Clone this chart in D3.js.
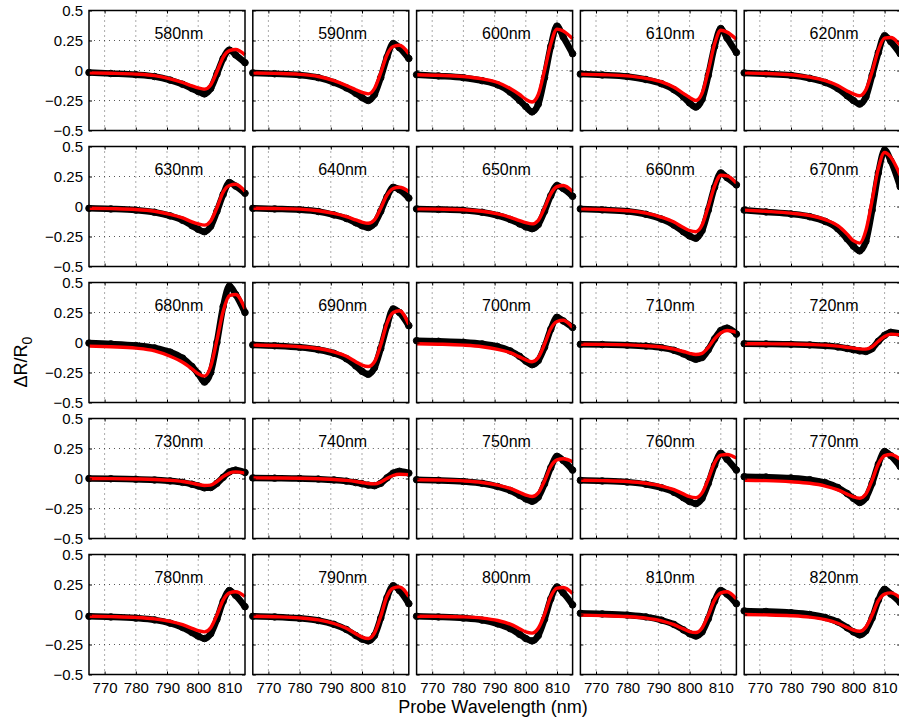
<!DOCTYPE html>
<html>
<head>
    <meta charset="utf-8" />
    <title>Pump wavelength series</title>
    <script src="https://cdn.jsdelivr.net/npm/d3@7"></script>
    <style type="text/css">
        body { margin:0; background:#fff; }
        text { font-family:"Liberation Sans", Arial, Helvetica, sans-serif; fill:#000; }
        .grid line { stroke:#444; stroke-width:0.9; stroke-dasharray:1 4; }
        .tick line { stroke:#000; }
        .domain { display:none; }
    </style>
</head>
<body>
    <div id="CHART"></div>
    <script>
        /* pump wavelength of each panel (row by row) */
        var pumpNm = [580, 590, 600, 610, 620,
                      630, 640, 650, 660, 670,
                      680, 690, 700, 710, 720,
                      730, 740, 750, 760, 770,
                      780, 790, 800, 810, 820];

        /* probe wavelengths where the curves were read */
        var probeNm = [765, 772, 780, 786, 791, 795, 798, 800, 802, 804, 806, 808, 810, 812, 815];

        var xTicks = [770, 780, 790, 800, 810];
        var yTicks = [-0.5, -0.25, 0, 0.25, 0.5];
        var yTickLabels = ["\u22120.5", "\u22120.25", "0", "0.25", "0.5"];
        var gridY = [-0.25, 0, 0.25];

        /* measured dR/R0 (black circles) */
        var measured = [
            [-0.017, -0.025, -0.035, -0.05, -0.08, -0.115, -0.15, -0.175, -0.195, -0.15, -0.03, 0.1, 0.17, 0.13, 0.065],
            [-0.02, -0.027, -0.038, -0.06, -0.1, -0.145, -0.19, -0.225, -0.25, -0.2, -0.06, 0.11, 0.225, 0.19, 0.1],
            [-0.035, -0.045, -0.06, -0.085, -0.12, -0.18, -0.25, -0.3, -0.345, -0.28, -0.06, 0.2, 0.37, 0.28, 0.14],
            [-0.03, -0.037, -0.05, -0.075, -0.11, -0.16, -0.22, -0.27, -0.305, -0.24, -0.04, 0.2, 0.35, 0.27, 0.15],
            [-0.02, -0.028, -0.04, -0.065, -0.1, -0.15, -0.21, -0.25, -0.28, -0.22, -0.04, 0.15, 0.29, 0.24, 0.14],

            [-0.015, -0.02, -0.03, -0.048, -0.078, -0.115, -0.16, -0.19, -0.21, -0.165, -0.04, 0.1, 0.2, 0.17, 0.11],
            [-0.015, -0.02, -0.027, -0.042, -0.07, -0.1, -0.135, -0.16, -0.175, -0.14, -0.04, 0.08, 0.16, 0.14, 0.07],
            [-0.02, -0.024, -0.032, -0.048, -0.075, -0.108, -0.145, -0.17, -0.185, -0.15, -0.04, 0.09, 0.175, 0.15, 0.085],
            [-0.02, -0.028, -0.04, -0.065, -0.105, -0.155, -0.21, -0.245, -0.265, -0.2, -0.03, 0.16, 0.28, 0.24, 0.18],
            [-0.03, -0.045, -0.062, -0.085, -0.125, -0.185, -0.27, -0.33, -0.37, -0.29, -0.03, 0.28, 0.47, 0.38, 0.165],

            [-0.005, -0.012, -0.025, -0.045, -0.08, -0.13, -0.2, -0.26, -0.33, -0.25, 0.0, 0.3, 0.47, 0.4, 0.25],
            [-0.02, -0.027, -0.04, -0.06, -0.09, -0.135, -0.195, -0.24, -0.265, -0.21, -0.05, 0.14, 0.28, 0.25, 0.14],
            [0.015, 0.01, 0.002, -0.012, -0.035, -0.07, -0.115, -0.155, -0.185, -0.15, -0.04, 0.11, 0.21, 0.18, 0.125],
            [-0.015, -0.017, -0.022, -0.03, -0.043, -0.065, -0.095, -0.12, -0.14, -0.125, -0.06, 0.03, 0.1, 0.12, 0.07],
            [-0.01, -0.012, -0.015, -0.02, -0.027, -0.037, -0.05, -0.06, -0.07, -0.075, -0.05, 0.01, 0.06, 0.085, 0.075],

            [0.0, -0.002, -0.006, -0.012, -0.02, -0.032, -0.048, -0.062, -0.078, -0.075, -0.04, 0.01, 0.055, 0.07, 0.05],
            [0.005, 0.003, 0.0, -0.005, -0.012, -0.022, -0.034, -0.044, -0.055, -0.06, -0.04, 0.005, 0.045, 0.06, 0.045],
            [-0.01, -0.015, -0.025, -0.04, -0.067, -0.1, -0.14, -0.17, -0.19, -0.155, -0.045, 0.09, 0.185, 0.15, 0.07],
            [-0.015, -0.02, -0.03, -0.048, -0.077, -0.115, -0.16, -0.192, -0.21, -0.165, -0.04, 0.11, 0.21, 0.16, 0.07],
            [0.015, 0.012, 0.004, -0.01, -0.035, -0.075, -0.125, -0.165, -0.2, -0.16, -0.04, 0.12, 0.225, 0.19, 0.1],

            [-0.015, -0.02, -0.03, -0.045, -0.072, -0.108, -0.15, -0.18, -0.2, -0.16, -0.04, 0.11, 0.2, 0.16, 0.065],
            [-0.015, -0.02, -0.032, -0.05, -0.082, -0.125, -0.175, -0.205, -0.22, -0.175, -0.03, 0.14, 0.24, 0.2, 0.09],
            [-0.015, -0.02, -0.03, -0.047, -0.078, -0.118, -0.165, -0.2, -0.22, -0.175, -0.04, 0.13, 0.23, 0.18, 0.08],
            [0.01, 0.005, -0.005, -0.02, -0.047, -0.083, -0.128, -0.16, -0.18, -0.145, -0.035, 0.11, 0.2, 0.17, 0.09],
            [0.03, 0.025, 0.015, 0.0, -0.025, -0.062, -0.11, -0.145, -0.17, -0.135, -0.03, 0.12, 0.21, 0.17, 0.1]
        ];

        /* model fit (red line) */
        var fitted = [
            [-0.02, -0.023, -0.03, -0.043, -0.07, -0.1, -0.128, -0.145, -0.155, -0.12, -0.01, 0.11, 0.165, 0.175, 0.13],
            [-0.02, -0.024, -0.032, -0.05, -0.085, -0.125, -0.16, -0.182, -0.195, -0.15, -0.02, 0.13, 0.2, 0.21, 0.14],
            [-0.035, -0.04, -0.05, -0.07, -0.1, -0.15, -0.2, -0.24, -0.262, -0.2, 0.0, 0.22, 0.345, 0.33, 0.265],
            [-0.03, -0.035, -0.045, -0.065, -0.095, -0.14, -0.19, -0.225, -0.25, -0.19, 0.0, 0.22, 0.335, 0.32, 0.26],
            [-0.02, -0.025, -0.035, -0.055, -0.085, -0.125, -0.17, -0.195, -0.21, -0.16, -0.01, 0.17, 0.27, 0.275, 0.21],

            [-0.015, -0.018, -0.025, -0.04, -0.065, -0.095, -0.128, -0.145, -0.155, -0.12, -0.01, 0.12, 0.175, 0.185, 0.125],
            [-0.015, -0.017, -0.022, -0.035, -0.058, -0.085, -0.112, -0.13, -0.14, -0.112, -0.015, 0.095, 0.15, 0.16, 0.125],
            [-0.02, -0.022, -0.027, -0.04, -0.062, -0.09, -0.118, -0.135, -0.145, -0.115, -0.012, 0.105, 0.165, 0.175, 0.125],
            [-0.02, -0.025, -0.035, -0.055, -0.09, -0.13, -0.175, -0.2, -0.21, -0.155, 0.0, 0.17, 0.26, 0.255, 0.195],
            [-0.03, -0.04, -0.055, -0.075, -0.11, -0.16, -0.23, -0.285, -0.305, -0.2, 0.05, 0.32, 0.45, 0.41, 0.26],

            [-0.03, -0.036, -0.047, -0.07, -0.115, -0.165, -0.22, -0.26, -0.28, -0.2, 0.02, 0.26, 0.39, 0.4, 0.28],
            [-0.02, -0.025, -0.035, -0.05, -0.078, -0.115, -0.16, -0.188, -0.2, -0.16, -0.02, 0.16, 0.25, 0.265, 0.15],
            [-0.01, -0.014, -0.022, -0.035, -0.057, -0.085, -0.12, -0.145, -0.16, -0.125, -0.015, 0.115, 0.175, 0.185, 0.125],
            [-0.015, -0.016, -0.02, -0.027, -0.037, -0.055, -0.075, -0.09, -0.1, -0.09, -0.04, 0.03, 0.08, 0.1, 0.085],
            [-0.01, -0.011, -0.013, -0.017, -0.022, -0.03, -0.04, -0.047, -0.053, -0.055, -0.035, 0.01, 0.05, 0.07, 0.065],

            [0.0, -0.001, -0.004, -0.008, -0.015, -0.025, -0.038, -0.05, -0.058, -0.055, -0.025, 0.015, 0.045, 0.055, 0.045],
            [0.005, 0.004, 0.002, -0.002, -0.008, -0.016, -0.025, -0.033, -0.042, -0.045, -0.03, 0.0, 0.025, 0.035, 0.032],
            [-0.01, -0.013, -0.02, -0.033, -0.055, -0.083, -0.115, -0.138, -0.15, -0.12, -0.02, 0.1, 0.155, 0.165, 0.14],
            [-0.015, -0.018, -0.025, -0.04, -0.063, -0.093, -0.128, -0.152, -0.16, -0.12, -0.005, 0.13, 0.195, 0.2, 0.17],
            [-0.015, -0.018, -0.027, -0.04, -0.063, -0.095, -0.13, -0.153, -0.165, -0.13, -0.015, 0.12, 0.19, 0.2, 0.16],

            [-0.015, -0.018, -0.024, -0.036, -0.057, -0.085, -0.115, -0.135, -0.145, -0.11, -0.005, 0.12, 0.18, 0.19, 0.15],
            [-0.015, -0.019, -0.028, -0.045, -0.075, -0.115, -0.16, -0.188, -0.2, -0.155, -0.015, 0.15, 0.22, 0.23, 0.15],
            [-0.015, -0.016, -0.02, -0.03, -0.05, -0.08, -0.118, -0.145, -0.155, -0.115, 0.0, 0.15, 0.22, 0.225, 0.175],
            [-0.005, -0.009, -0.017, -0.03, -0.053, -0.085, -0.12, -0.142, -0.15, -0.112, -0.005, 0.12, 0.18, 0.19, 0.13],
            [0.0, -0.003, -0.01, -0.022, -0.043, -0.073, -0.108, -0.13, -0.14, -0.105, -0.005, 0.115, 0.17, 0.18, 0.14]
        ];

        /************************LAYOUT************************/
        var W = 899, H = 721;
        var PanelW = 156, PanelH = 120;
        var Left0 = 89, ColStep = 163.8;
        var Top0 = 10.5, RowStep = 136;
        var NCols = 5;

        var svg = d3.select("#CHART").append("svg")
            .attr("width", W).attr("height", H)
            .style("display", "block");

        svg.append("rect").attr("width", W).attr("height", H).attr("fill", "#fff");

        pumpNm.forEach(function (nm, i) {
            var col = i % NCols, row = Math.floor(i / NCols);
            var x0 = Left0 + col * ColStep, y0 = Top0 + row * RowStep;

            var x = d3.scaleLinear().domain([765, 815]).range([x0, x0 + PanelW]);
            var y = d3.scaleLinear().domain([-0.5, 0.5]).range([y0 + PanelH, y0]);

            var g = svg.append("g").attr("class", "panel");

            //dotted grid
            var grid = g.append("g").attr("class", "grid");
            grid.selectAll("line.gx").data(xTicks).join("line")
                .attr("class", "gx")
                .attr("x1", function (d) { return x(d); }).attr("x2", function (d) { return x(d); })
                .attr("y1", y0).attr("y2", y0 + PanelH);
            grid.selectAll("line.gy").data(gridY).join("line")
                .attr("class", "gy")
                .attr("y1", function (d) { return y(d); }).attr("y2", function (d) { return y(d); })
                .attr("x1", x0).attr("x2", x0 + PanelW);

            var pts = probeNm.map(function (p, k) { return [p, measured[i][k]]; });
            var fit = probeNm.map(function (p, k) { return [p, fitted[i][k]]; });

            var line = d3.line()
                .x(function (d) { return x(d[0]); })
                .y(function (d) { return y(d[1]); })
                .curve(d3.curveMonotoneX);

            //measured data: thick band of open circles
            g.append("path").datum(pts)
                .attr("d", line)
                .attr("fill", "none")
                .attr("stroke", "#000")
                .attr("stroke-width", 6.5)
                .attr("stroke-linecap", "round")
                .attr("stroke-linejoin", "round");
            g.selectAll("circle").data(pts).join("circle")
                .attr("cx", function (d) { return x(d[0]); })
                .attr("cy", function (d) { return y(d[1]); })
                .attr("r", 3.3)
                .attr("fill", "none")
                .attr("stroke", "#000")
                .attr("stroke-width", 1);

            //fit
            g.append("path").datum(fit)
                .attr("d", line)
                .attr("fill", "none")
                .attr("stroke", "#ff0000")
                .attr("stroke-width", 3.4)
                .attr("stroke-linejoin", "round");

            //axes with inward ticks
            var ax = d3.axisLeft(y).tickValues(yTicks).tickSizeInner(-3).tickSizeOuter(0).tickPadding(6)
                .tickFormat(function (d, k) { return col === 0 ? yTickLabels[k] : ""; });
            g.append("g").attr("transform", "translate(" + x0 + ",0)").call(ax)
                .selectAll("text").style("font-size", "15px");

            var axR = d3.axisRight(y).tickValues(yTicks).tickSizeInner(-3).tickSizeOuter(0).tickFormat("");
            g.append("g").attr("transform", "translate(" + (x0 + PanelW) + ",0)").call(axR);

            var bx = d3.axisBottom(x).tickValues(xTicks).tickSizeInner(-3).tickSizeOuter(0).tickPadding(8)
                .tickFormat(function (d) { return row === 4 ? d : ""; });
            g.append("g").attr("transform", "translate(0," + (y0 + PanelH) + ")").call(bx)
                .selectAll("text").style("font-size", "15px");

            var tx = d3.axisTop(x).tickValues(xTicks).tickSizeInner(-3).tickSizeOuter(0).tickFormat("");
            g.append("g").attr("transform", "translate(0," + y0 + ")").call(tx);

            //frame
            g.append("rect")
                .attr("x", x0).attr("y", y0)
                .attr("width", PanelW).attr("height", PanelH)
                .attr("fill", "none")
                .attr("stroke", "#000")
                .attr("stroke-width", 1.5);

            //panel label
            g.append("text")
                .attr("x", x(793.8)).attr("y", y(0.3))
                .attr("text-anchor", "middle")
                .attr("dominant-baseline", "middle")
                .style("font-size", "16px")
                .text(nm + "nm");
        });

        svg.append("text")
            .attr("x", 493).attr("y", 713)
            .attr("text-anchor", "middle")
            .style("font-size", "18px")
            .text("Probe Wavelength (nm)");

        var yl = svg.append("text")
            .attr("transform", "translate(27,362) rotate(-90)")
            .attr("text-anchor", "middle")
            .style("font-size", "18px");
        yl.append("tspan").text("\u0394R/R");
        yl.append("tspan").attr("dy", 5).style("font-size", "14px").text("0");
    </script>
</body>
</html>
